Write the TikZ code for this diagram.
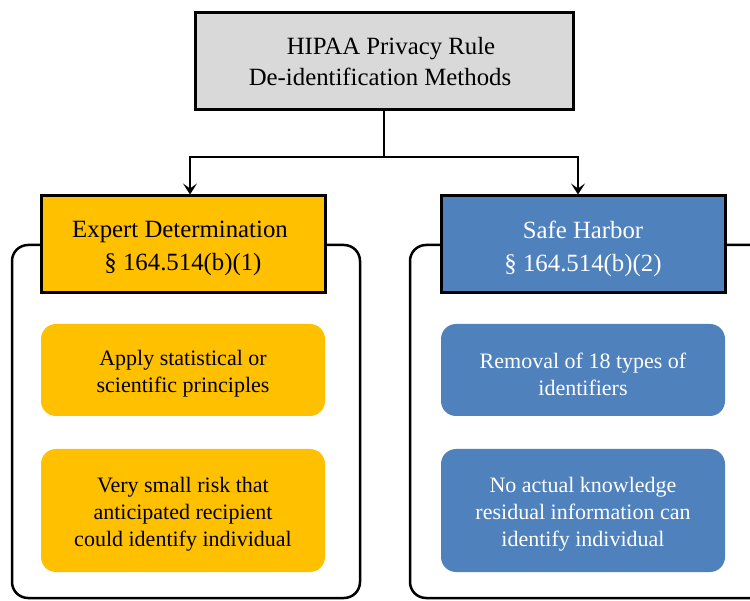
\documentclass[tikz,border=0pt]{standalone}
\usepackage{fontspec}
\setmainfont{Liberation Serif}
\usetikzlibrary{arrows.meta}
\definecolor{hgray}{HTML}{D9D9D9}
\definecolor{horange}{HTML}{FFC000}
\definecolor{hblue}{HTML}{4F81BD}
\tikzset{
  topbox/.style={draw=black, line width=3pt, fill=hgray, minimum width=378pt, minimum height=97pt, align=center, inner sep=0pt, font=\fontsize{24.8}{31}\selectfont},
  headbox/.style={draw=black, line width=3pt, minimum width=284pt, minimum height=97pt, inner sep=0pt},
  headtext/.style={align=center, inner sep=0pt, yshift=-4pt, font=\fontsize{24.8}{33}\selectfont},
  itembox/.style={rounded corners=15pt, minimum width=284pt, inner sep=0pt},
  itemtext/.style={align=center, inner sep=0pt, yshift=-4pt, font=\fontsize{22}{27}\selectfont},
  container/.style={draw=black, line width=2.5pt, rounded corners=16pt},
  conn/.style={draw=black, line width=2.5pt},
  arr/.style={conn, -{Stealth[length=11pt, width=14pt, inset=5pt]}}
}
\begin{document}
\begin{tikzpicture}[x=1pt, y=-1pt]
\useasboundingbox (0,0) rectangle (750,601);
\clip (0,0) rectangle (750,601);
% containers
\draw[container] (12,245) rectangle (360,598);
\draw[container] (410,245) rectangle (800,598);
% nodes
\node[topbox] (top) at (384,61.5) {\hspace*{14pt}HIPAA Privacy Rule\\De-identification Methods\hspace*{8pt}};
\node[headbox, fill=horange, label={[headtext, text=black]center:{Expert Determination\hspace*{6pt}\\\S\ 164.514(b)(1)}}] (expert) at (183,244.5) {};
\node[headbox, fill=hblue, label={[headtext, text=white]center:{Safe Harbor\\\S\ 164.514(b)(2)}}] (safe) at (583,244.5) {};
\node[itembox, fill=horange, minimum height=92pt, label={[itemtext, text=black]center:{Apply statistical or\\scientific principles}}] (e1) at (183,370) {};
\node[itembox, fill=horange, minimum height=123pt, label={[itemtext, text=black]center:{Very small risk that\\anticipated recipient\\could identify individual}}] (e2) at (183,510.5) {};
\node[itembox, fill=hblue, minimum height=92pt, label={[itemtext, text=white]center:{Removal of 18 types of\\identifiers}}] (s1) at (583,370) {};
\node[itembox, fill=hblue, minimum height=123pt, label={[itemtext, text=white]center:{No actual knowledge\\residual information can\\identify individual}}] (s2) at (583,510.5) {};
% connectors
\coordinate (j) at (384,157);
\draw[conn] (top.south) -- (j);
\draw[arr] (j) -| ([xshift=7pt]expert.north);
\draw[arr] (j) -| ([xshift=-5pt]safe.north);
\end{tikzpicture}
\end{document}
